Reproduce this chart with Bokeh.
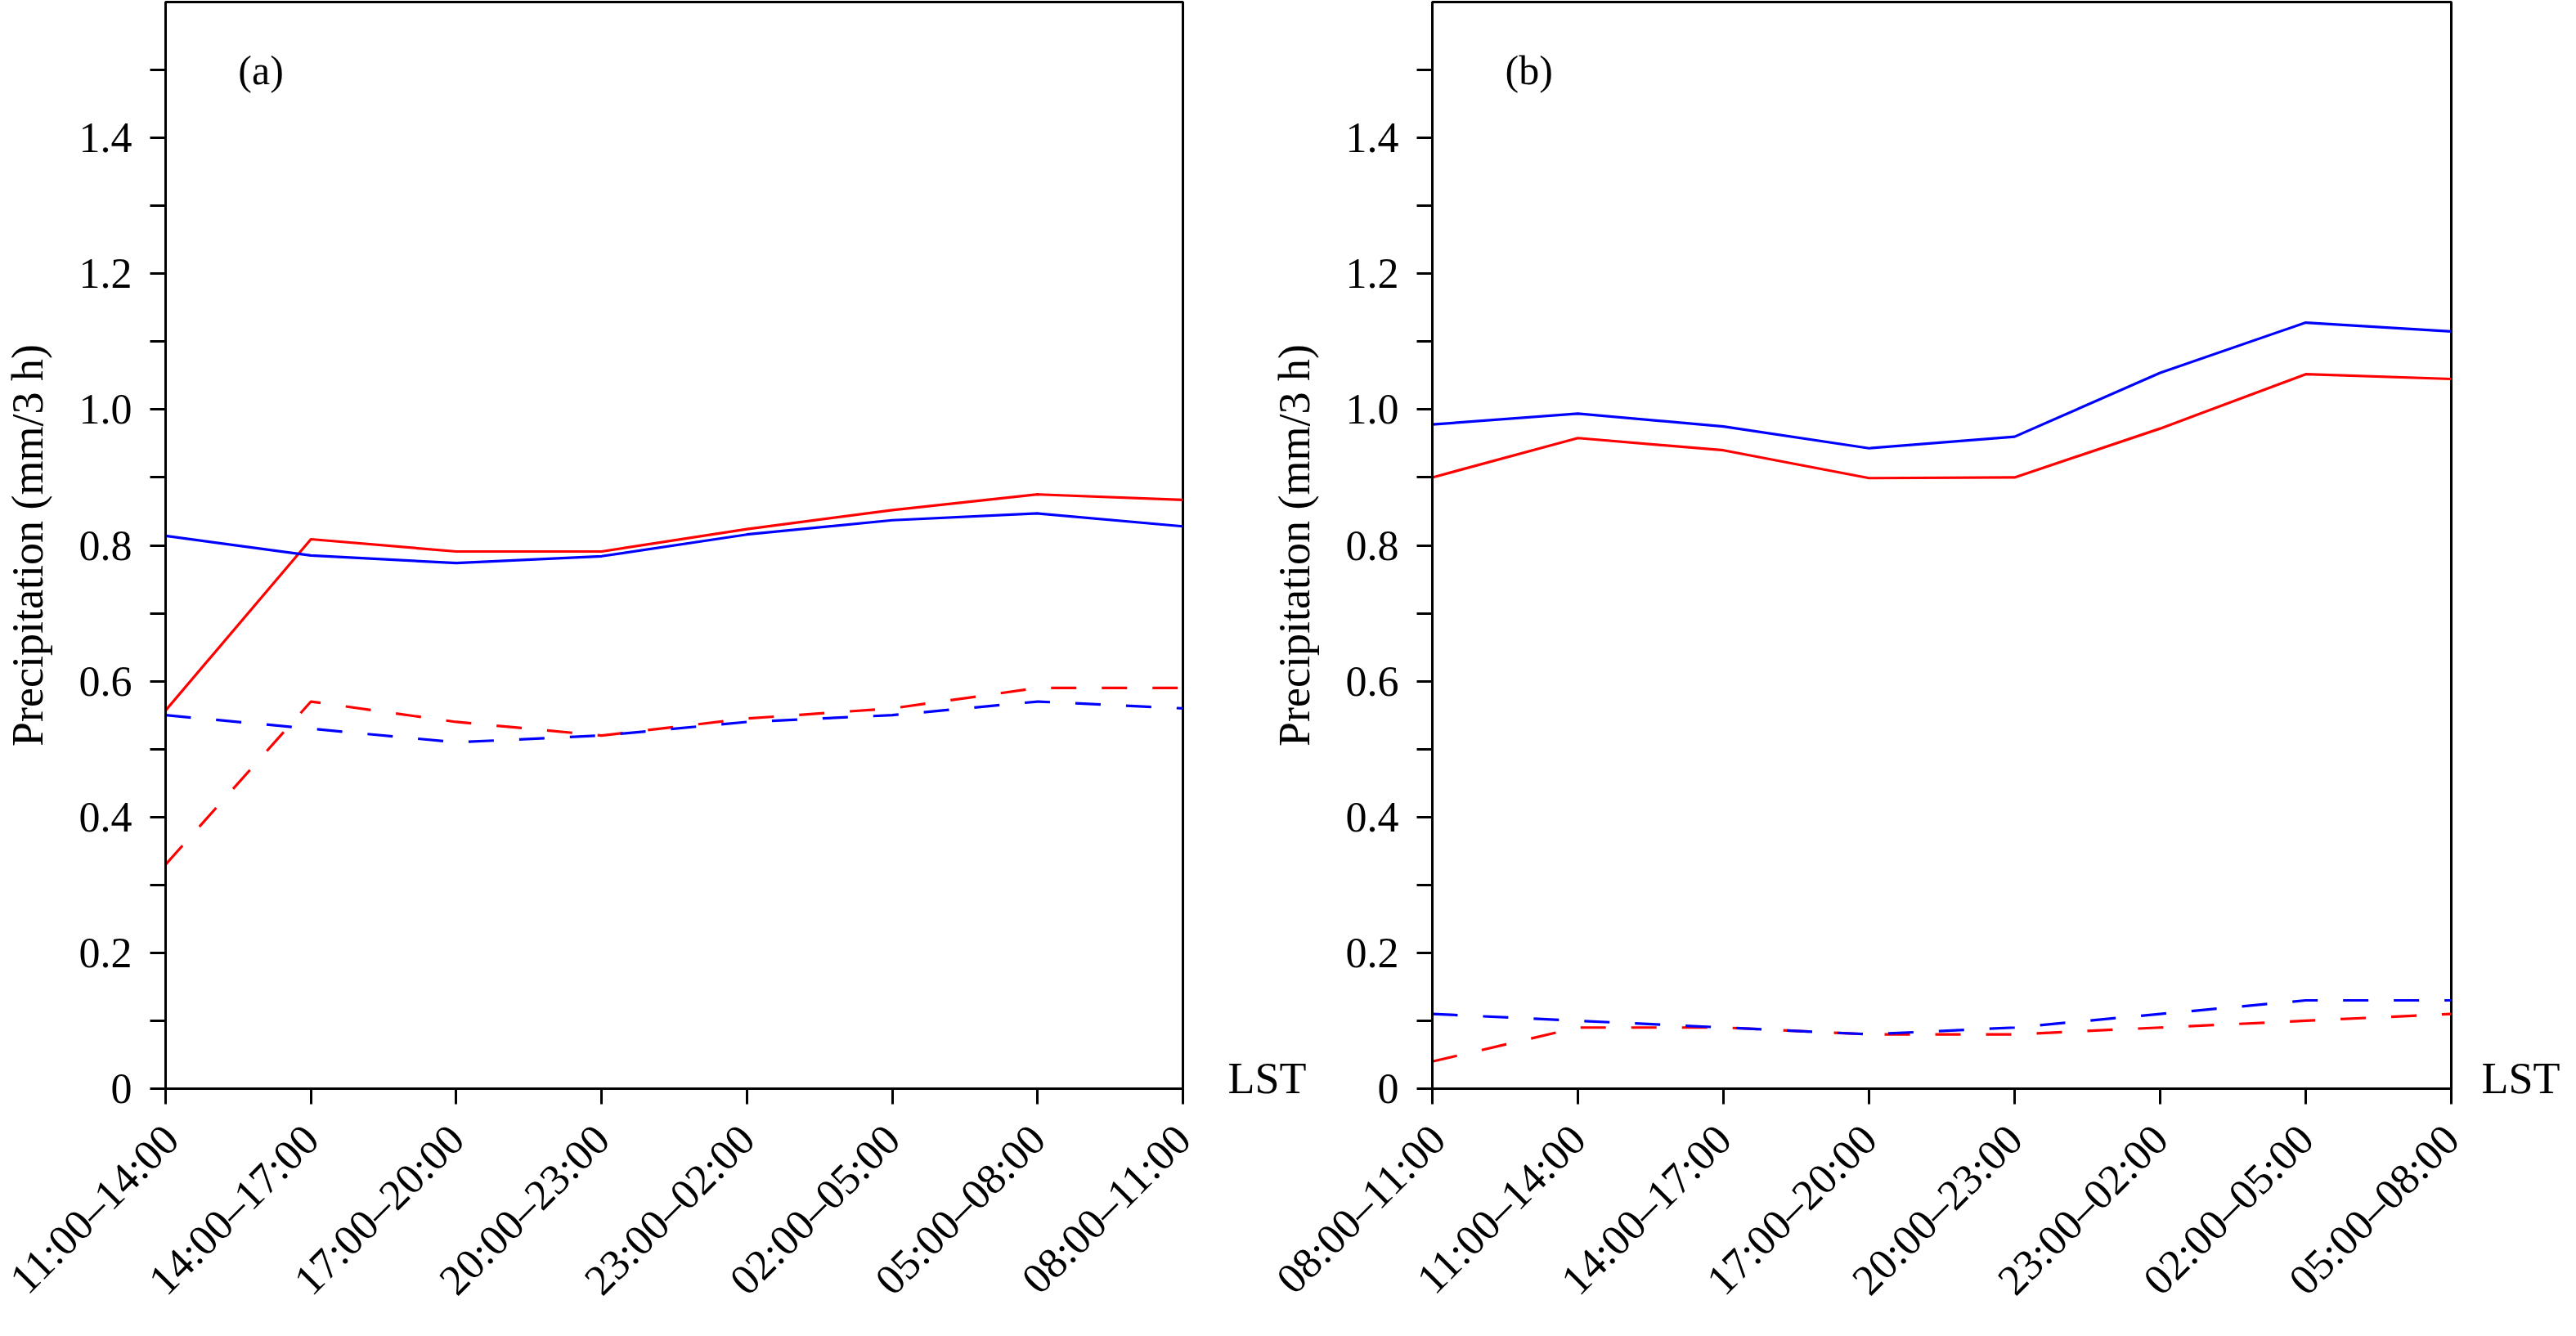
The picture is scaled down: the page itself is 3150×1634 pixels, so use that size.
import math
from bokeh.plotting import figure
from bokeh.models import Range1d, FixedTicker, Label, LinearAxis
from bokeh.layouts import row
from bokeh.embed import file_html
from bokeh.resources import INLINE

# ---- data ----
periods_a = ["11:00–14:00", "14:00–17:00", "17:00–20:00", "20:00–23:00",
             "23:00–02:00", "02:00–05:00", "05:00–08:00", "08:00–11:00"]
periods_b = ["08:00–11:00", "11:00–14:00", "14:00–17:00", "17:00–20:00",
             "20:00–23:00", "23:00–02:00", "02:00–05:00", "05:00–08:00"]

a_blue_solid = [0.814, 0.785, 0.774, 0.784, 0.816, 0.837, 0.847, 0.828]
a_red_solid = [0.557, 0.809, 0.791, 0.791, 0.824, 0.852, 0.875, 0.867]
a_blue_dash = [0.55, 0.53, 0.51, 0.52, 0.54, 0.55, 0.57, 0.56]
a_red_dash = [0.33, 0.57, 0.54, 0.52, 0.545, 0.56, 0.59, 0.59]

b_blue_solid = [0.978, 0.994, 0.975, 0.943, 0.960, 1.054, 1.128, 1.115]
b_red_solid = [0.900, 0.958, 0.940, 0.899, 0.900, 0.972, 1.052, 1.045]
b_blue_dash = [0.11, 0.10, 0.09, 0.08, 0.09, 0.11, 0.13, 0.13]
b_red_dash = [0.04, 0.09, 0.09, 0.08, 0.08, 0.09, 0.10, 0.11]

y_ticks = [0, 0.2, 0.4, 0.6, 0.8, 1.0, 1.2, 1.4]
y_tick_labels = ["0", "0.2", "0.4", "0.6", "0.8", "1.0", "1.2", "1.4"]
y_minor = [0.1, 0.3, 0.5, 0.7, 0.9, 1.1, 1.3, 1.5]
y_max = 1.6
x_unit_label = "LST"

FONT = "Liberation Serif"
BLUE = "#0000ff"
RED = "#ff0000"
H = 1618


def make_panel(periods, blue_s, red_s, blue_d, red_d, tag, width, border_right, lst_offset):
    n = len(periods)
    xs = list(range(n))
    p = figure(width=width, height=H, output_backend="svg", toolbar_location=None,
               x_range=Range1d(0, n - 1), y_range=Range1d(0, y_max),
               min_border_left=200, min_border_right=border_right,
               min_border_top=2, min_border_bottom=287)
    p.grid.visible = False
    p.background_fill_color = None
    p.border_fill_color = None
    p.outline_line_color = "black"
    p.outline_line_width = 3

    p.line(xs, red_s, line_color=RED, line_width=3.2)
    p.line(xs, blue_s, line_color=BLUE, line_width=3.2)
    p.line(xs, red_d, line_color=RED, line_width=3.2, line_dash="31 31")
    p.line(xs, blue_d, line_color=BLUE, line_width=3.2, line_dash="31 31")

    xa = p.xaxis[0]
    xa.ticker = FixedTicker(ticks=xs)
    xa.major_label_overrides = {i: lab for i, lab in enumerate(periods)}
    xa.major_label_orientation = math.pi / 4
    xa.minor_tick_line_color = None
    for ax in (p.xaxis[0], p.yaxis[0]):
        ax.axis_line_width = 3
        ax.major_tick_line_width = 3
        ax.minor_tick_line_width = 3
        ax.major_tick_in = 0
        ax.major_tick_out = 19
        ax.minor_tick_in = 0
        ax.minor_tick_out = 19
        ax.major_label_text_font = FONT
        ax.major_label_text_font_size = "52px"
        ax.major_label_text_color = "black"
        ax.axis_label_text_font = FONT
        ax.axis_label_text_font_style = "normal"
        ax.axis_label_text_color = "black"
    xa.major_label_text_font_size = "53px"
    xa.major_label_standoff = 34

    ya = p.yaxis[0]
    ya.ticker = FixedTicker(ticks=y_ticks, minor_ticks=y_minor)
    ya.major_label_overrides = {t: lab for t, lab in zip(y_ticks, y_tick_labels)}
    ya.major_label_standoff = 22
    ya.axis_label = "Precipitation (mm/3 h)"
    ya.axis_label_text_font_size = "54px"
    ya.axis_label_standoff = 30

    # "LST" unit label at the right end of the x axis
    lst_pos = 0.015
    ra = LinearAxis(ticker=FixedTicker(ticks=[lst_pos], minor_ticks=[]),
                    major_label_overrides={lst_pos: x_unit_label},
                    axis_line_color=None, major_tick_line_color=None,
                    minor_tick_line_color=None, major_tick_in=0, major_tick_out=0,
                    major_label_standoff=lst_offset, major_label_orientation="horizontal",
                    major_label_text_font=FONT, major_label_text_font_size="54px",
                    major_label_text_color="black")
    p.add_layout(ra, "right")

    p.add_layout(Label(x=0.5, y=1.5, text=tag, text_font=FONT, text_font_size="50px",
                       text_color="black", text_baseline="alphabetic", text_align="left"))
    return p


pa = make_panel(periods_a, a_blue_solid, a_red_solid, a_blue_dash, a_red_dash,
                "(a)", 1600, 152, 55)
pb = make_panel(periods_b, b_blue_solid, b_red_solid, b_blue_dash, b_red_dash,
                "(b)", 1585, 137, 37)
pb.margin = (0, 0, 0, -51)

layout = row(pa, pb)
open("out.html", "w").write(file_html(layout, INLINE))
